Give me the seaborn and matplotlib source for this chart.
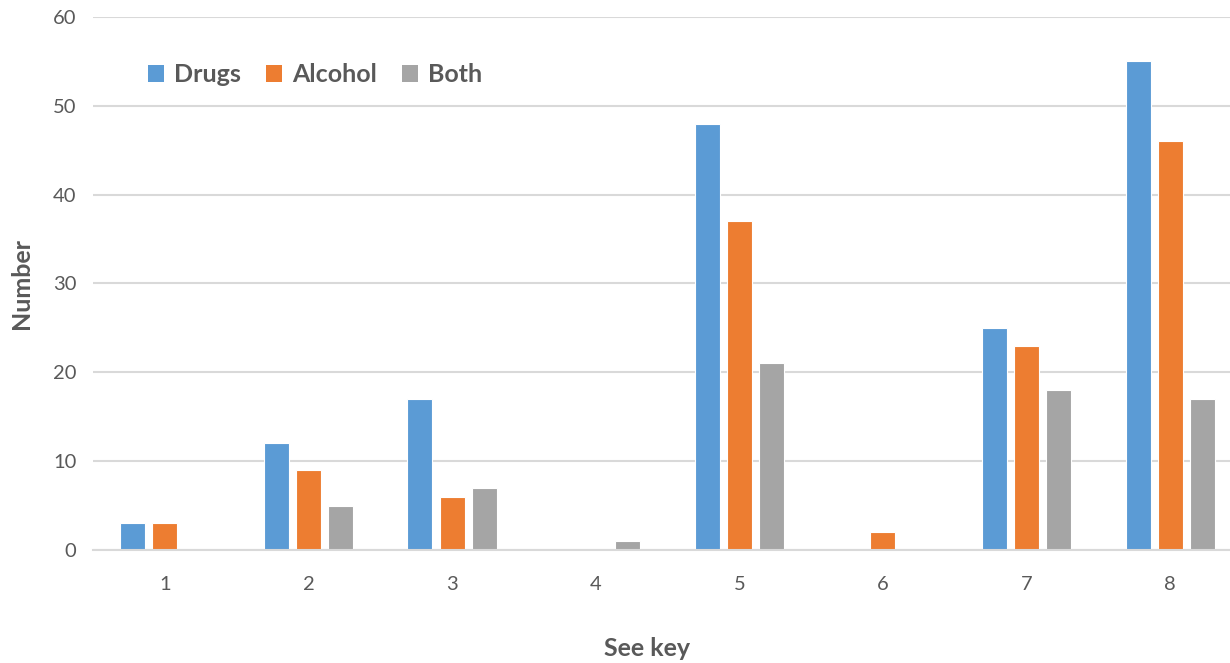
import matplotlib
matplotlib.use("Agg")
import matplotlib.pyplot as plt
import pandas as pd
import seaborn as sns

categories = ["1", "2", "3", "4", "5", "6", "7", "8"]
drugs = [3, 12, 17, 0, 48, 0, 25, 55]
alcohol = [3, 9, 6, 0, 37, 2, 23, 46]
both = [0, 5, 7, 1, 21, 0, 18, 17]
series_names = ["Drugs", "Alcohol", "Both"]
palette = ["#5B9BD5", "#ED7D31", "#A5A5A5"]
y_ticks = [0, 10, 20, 30, 40, 50, 60]

df = pd.DataFrame({
    "key": categories * 3,
    "value": drugs + alcohol + both,
    "series": [s for s in series_names for _ in categories],
})

sns.set_theme(style="white")
plt.rcParams["font.family"] = ["Lato", "DejaVu Sans"]
text_color = "#595959"

fig = plt.figure(figsize=(12.3, 6.63), dpi=100)
ax = fig.add_axes([93 / 1230, 113 / 663, (1242 - 93) / 1230, 533 / 663])

sns.barplot(data=df, x="key", y="value", hue="series", hue_order=series_names,
            palette=palette, width=0.67, gap=0.22, saturation=1,
            edgecolor="white", linewidth=0.8, ax=ax)

ax.set_ylim(0, 60)
ax.set_xlim(-0.5, 7.5)
ax.set_yticks(y_ticks)
ax.yaxis.grid(True, color="#D9D9D9", linewidth=1.5)
ax.set_axisbelow(True)
for side in ["top", "right", "left"]:
    ax.spines[side].set_visible(False)
ax.spines["bottom"].set_color("#D9D9D9")
ax.spines["bottom"].set_linewidth(1.5)
ax.tick_params(axis="both", length=0, labelsize=14.5, colors=text_color)
ax.tick_params(axis="x", pad=19)
ax.tick_params(axis="y", pad=12)

ax.set_xlabel("See key", fontsize=18, fontweight="bold", color=text_color)
ax.set_ylabel("Number", fontsize=18, fontweight="bold", color=text_color)
ax.xaxis.set_label_coords((647 - 93) / 1149, (550 - 648) / 533)
ax.yaxis.set_label_coords((22 - 93) / 1149, 0.5)
ax.xaxis.label.set_verticalalignment("center")
ax.yaxis.label.set_verticalalignment("center")
ax.yaxis.label.set_horizontalalignment("center")

leg = ax.legend(loc="upper left", bbox_to_anchor=(0.028, 0.955), ncol=3, frameon=False,
                fontsize=18, handlelength=0.65, handleheight=0.65, handletextpad=0.4,
                columnspacing=1.0)
for t in leg.get_texts():
    t.set_color(text_color)
    t.set_fontweight("bold")
for h in leg.legend_handles:
    h.set_edgecolor("none")

fig.savefig("out.png", dpi=100)
